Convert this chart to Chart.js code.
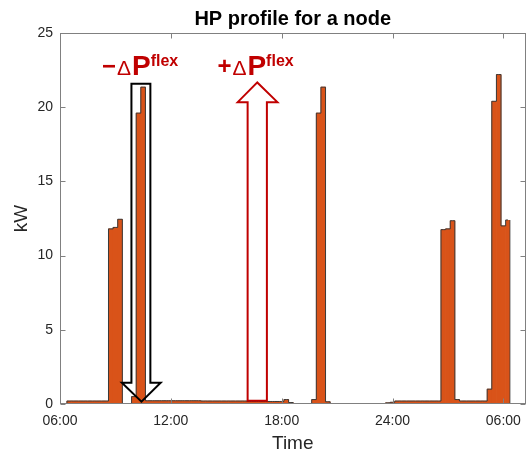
<!DOCTYPE html>
<html><head><meta charset="utf-8">
<script src="https://cdn.jsdelivr.net/npm/chart.js@4.4.1/dist/chart.umd.min.js"></script>
<style>html,body{margin:0;padding:0;background:#fff;} #wrap{width:530px;height:453px;}</style>
</head><body><div id="wrap"><canvas id="c" width="530" height="453"></canvas></div>
<script>
// ---- data ----
const chartTitle = 'HP profile for a node';
const xTitle = 'Time';
const yTitle = 'kW';
const startHour = 6;      // first 15-min slot centre (06:00)
const slotHours = 0.25;   // 15-minute slots
// HP power per 15-min slot (kW)
const powerKW = [
  0, 0, 0.2, 0.2, 0.2, 0.2, 0.2, 0.2, 0.2, 0.2, 0.2,
  11.8, 11.9, 12.45,
  0, 0, 0.5,
  19.6, 21.35,
  0.22, 0.22, 0.22, 0.22, 0.22, 0.22, 0.22, 0.22, 0.22, 0.22, 0.22, 0.22,
  0.2, 0.2, 0.2, 0.2, 0.2, 0.2, 0.2, 0.2, 0.2, 0.2,
  0.17, 0.17, 0.17, 0.17, 0.17, 0.17, 0.17, 0.17,
  0.3, 0.1,
  0, 0, 0, 0,
  0.3, 19.6, 21.35, 0.15,
  0, 0, 0, 0, 0, 0, 0, 0, 0, 0, 0, 0,
  0.08, 0.12,
  0.2, 0.2, 0.2, 0.2, 0.2, 0.2, 0.2, 0.2, 0.2, 0.2,
  11.75, 11.8, 12.35,
  0.3,
  0.2, 0.2, 0.2, 0.2, 0.2, 0.2,
  1.0,
  20.4, 22.2, 12.0, 12.4
];
const slotTimes = powerKW.map((_, i) => startHour + i * slotHours);
const xTickHours = [6, 12, 18, 24, 30];
const xTickLabels = ['06:00', '12:00', '18:00', '24:00', '06:00'];
const yTickValues = [0, 5, 10, 15, 20, 25];
const flexLabels = ['\u2212', '+'];
const flexSup = 'flex';

// ---- styling / annotation geometry (in axis units) ----
const FONT = "'Liberation Sans', Arial, Helvetica, sans-serif";
const barColor = '#D95319';
const edgeColor = '#3a3a3a';
const axisColor = '#808080';
const textColor = '#262626';
const flexRed = '#C00000';
const arrowsCfg = [
  {color: '#000000', x0: 9.867, x1: 10.892, hx0: 9.35, hx1: 11.45, tipX: 10.41, yBody: 21.58, yHead: 1.44, yTip: 0.155},
  {color: flexRed, x0: 16.157, x1: 17.2, hx0: 15.62, hx1: 17.77, tipX: 16.68, yBody: 0.22, yHead: 20.34, yTip: 21.67}
];
const labelPos = [{x: 8.27, y: 22.18}, {x: 14.52, y: 22.18}];

const boxPlugin = {
  id: 'boxPlugin',
  afterDatasetsDraw(chart) {
    const ctx = chart.ctx, xs = chart.scales.x, ys = chart.scales.y;
    // arrows
    arrowsCfg.forEach(a => {
      const P = (x, y) => [xs.getPixelForValue(x), ys.getPixelForValue(y)];
      const pts = [P(a.x0, a.yBody), P(a.x0, a.yHead), P(a.hx0, a.yHead), P(a.tipX, a.yTip),
                   P(a.hx1, a.yHead), P(a.x1, a.yHead), P(a.x1, a.yBody)];
      ctx.save();
      ctx.beginPath();
      ctx.moveTo(pts[0][0], pts[0][1]);
      for (let i = 1; i < pts.length; i++) ctx.lineTo(pts[i][0], pts[i][1]);
      ctx.closePath();
      ctx.lineWidth = 2;
      ctx.lineJoin = 'miter';
      ctx.strokeStyle = a.color;
      ctx.stroke();
      ctx.restore();
    });
    // labels  -ΔP^flex / +ΔP^flex
    labelPos.forEach((p, i) => {
      let x = xs.getPixelForValue(p.x);
      const y = ys.getPixelForValue(p.y);
      ctx.save();
      ctx.fillStyle = flexRed;
      ctx.textBaseline = 'alphabetic';
      ctx.textAlign = 'left';
      ctx.font = 'bold 24px ' + FONT;
      ctx.fillText(flexLabels[i], x, y - 1);
      x += ctx.measureText(flexLabels[i]).width + 1;
      ctx.font = '21px ' + FONT;
      ctx.fillText('\u0394', x, y);
      x += ctx.measureText('\u0394').width + 1;
      ctx.font = 'bold 28px ' + FONT;
      ctx.fillText('P', x, y);
      x += ctx.measureText('P').width;
      ctx.font = 'bold 16px ' + FONT;
      ctx.fillText(flexSup, x, y - 9);
      ctx.restore();
    });
  },
  afterDraw(chart) {
    const ctx = chart.ctx, a = chart.chartArea, xs = chart.scales.x, ys = chart.scales.y;
    ctx.save();
    ctx.strokeStyle = axisColor;
    ctx.lineWidth = 1;
    const L = Math.round(a.left) + 0.5, R = Math.round(a.right) - 0.5;
    const T = Math.round(a.top) + 0.5, B = Math.round(a.bottom) - 0.5;
    ctx.strokeRect(L, T, R - L, B - T);
    const tl = 5;
    ctx.beginPath();
    xTickHours.forEach(h => {
      const px = Math.round(xs.getPixelForValue(h)) + 0.5;
      ctx.moveTo(px, B); ctx.lineTo(px, B - tl);
      ctx.moveTo(px, T); ctx.lineTo(px, T + tl);
    });
    yTickValues.forEach(v => {
      const py = Math.round(ys.getPixelForValue(v)) + 0.5;
      ctx.moveTo(L, py); ctx.lineTo(L + tl, py);
      ctx.moveTo(R, py); ctx.lineTo(R - tl, py);
    });
    ctx.stroke();
    // title
    ctx.fillStyle = '#000';
    ctx.font = 'bold 20px ' + FONT;
    ctx.textAlign = 'center';
    ctx.textBaseline = 'middle';
    ctx.fillText(chartTitle, (a.left + a.right) / 2, 19);
    ctx.restore();
  }
};

new Chart(document.getElementById('c'), {
  type: 'bar',
  data: {
    datasets: [
      {
        type: 'line',
        data: powerKW.map((v, i) => ({x: slotTimes[i], y: v})),
        stepped: 'middle',
        borderColor: edgeColor,
        borderWidth: 1,
        pointRadius: 0,
        fill: false,
        order: 0
      },
      {
        type: 'bar',
        data: powerKW.map((v, i) => ({x: slotTimes[i], y: v})),
        backgroundColor: barColor,
        borderWidth: ctx => (ctx.dataIndex === powerKW.length - 1 ? {right: 1} : 0),
        borderColor: edgeColor,
        borderSkipped: false,
        barPercentage: 1,
        categoryPercentage: 1,
        order: 1
      }
    ]
  },
  options: {
    responsive: false,
    animation: false,
    devicePixelRatio: 1,
    layout: {padding: {top: 33, right: 3, left: 0, bottom: 0}},
    plugins: {legend: {display: false}, tooltip: {enabled: false}, title: {display: false}},
    scales: {
      x: {
        type: 'linear',
        offset: false,
        min: 6, max: 31.2,
        grid: {display: false, drawTicks: false, offset: false},
        border: {display: false},
        afterBuildTicks: s => { s.ticks = xTickHours.map(v => ({value: v})); },
        afterFit: s => { s.height = 49; },
        ticks: {
          autoSkip: false, maxRotation: 0, padding: 9,
          color: textColor, font: {family: FONT, size: 14},
          callback: (v, i) => xTickLabels[i]
        },
        title: {display: true, text: xTitle, color: textColor, font: {family: FONT, size: 19, lineHeight: 1}, padding: {top: 0, bottom: 0}}
      },
      y: {
        min: 0, max: 25,
        grid: {display: false, drawTicks: false},
        border: {display: false},
        afterBuildTicks: s => { s.ticks = yTickValues.map(v => ({value: v})); },
        afterFit: s => { s.width = 60; },
        ticks: {padding: 7, color: textColor, font: {family: FONT, size: 14}},
        title: {display: true, text: yTitle, color: textColor, font: {family: FONT, size: 19, lineHeight: 1}, padding: {top: 12, bottom: 0}}
      }
    }
  },
  plugins: [boxPlugin]
});
</script>
</body></html>
